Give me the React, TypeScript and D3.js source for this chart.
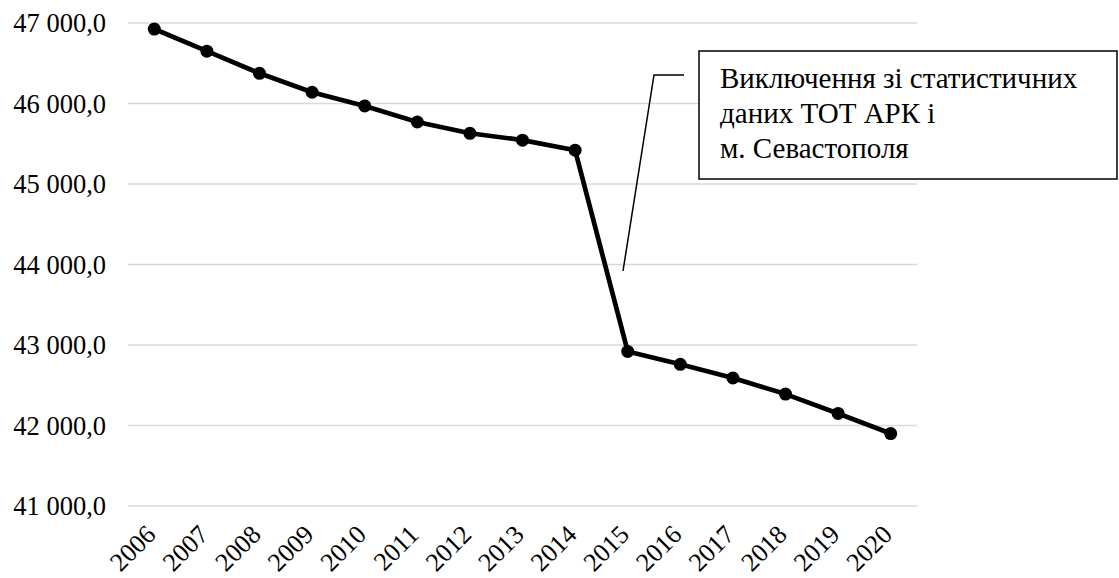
import React from "react";
import * as d3 from "d3";

const years = ["2006","2007","2008","2009","2010","2011","2012","2013","2014","2015","2016","2017","2018","2019","2020"];
const values = [46925, 46650, 46375, 46140, 45970, 45770, 45630, 45545, 45420, 42920, 42760, 42590, 42390, 42150, 41900];
const yTicks = [41000, 42000, 43000, 44000, 45000, 46000, 47000];
const annotationLines = ["Виключення зі статистичних", "даних ТОТ АРК і", "м. Севастополя"];

const W = 1119, H = 578;
const left = 128, right = 917, top = 23, bottom = 506;
const font = "Liberation Serif";

function fmt(v: number) {
  const s = d3.format(",.1f")(v);
  return s.replace(/,/g, " ").replace(".", ",");
}

export default function App() {
  const x = d3.scaleBand<string>().domain(years).range([left, right]);
  const y = d3.scaleLinear().domain([41000, 47000]).range([bottom, top]);
  const cx = (yr: string) => (x(yr) as number) + x.bandwidth() / 2;
  const line = d3.line<number>().x((_, i) => cx(years[i])).y((d) => y(d));
  const ts = { fontFamily: font };

  return (
    <div style={{ position: "fixed", left: 0, top: 0 }}>
      <svg width={W} height={H} style={{ display: "block", background: "#fff" }}>
        {yTicks.map((t) => (
          <g key={t}>
            <line x1={left} x2={right} y1={y(t)} y2={y(t)} stroke="#d9d9d9" strokeWidth={1.5} />
            <text x={106} y={y(t)} dy="0.35em" textAnchor="end" fontSize={26.5} fill="#000" style={ts}>{fmt(t)}</text>
          </g>
        ))}
        {years.map((yr) => (
          <text key={yr} transform={`translate(${cx(yr) + 3},${536}) rotate(-45)`} textAnchor="end" fontSize={26} fill="#000" style={ts}>{yr}</text>
        ))}
        <path d={line(values) || ""} fill="none" stroke="#000" strokeWidth={4.7} strokeLinejoin="round" />
        {values.map((v, i) => (
          <circle key={i} cx={cx(years[i])} cy={y(v)} r={6.5} fill="#000" />
        ))}
        <polyline points="684,75 654,75 623,271" fill="none" stroke="#000" strokeWidth={1.5} />
        <rect x={699} y={51} width={418} height={128} fill="#fff" stroke="#000" strokeWidth={1.5} />
        {annotationLines.map((l, i) => (
          <text key={i} x={720} y={88 + i * 35} fontSize={29} fill="#000" style={ts}>{l}</text>
        ))}
      </svg>
    </div>
  );
}
